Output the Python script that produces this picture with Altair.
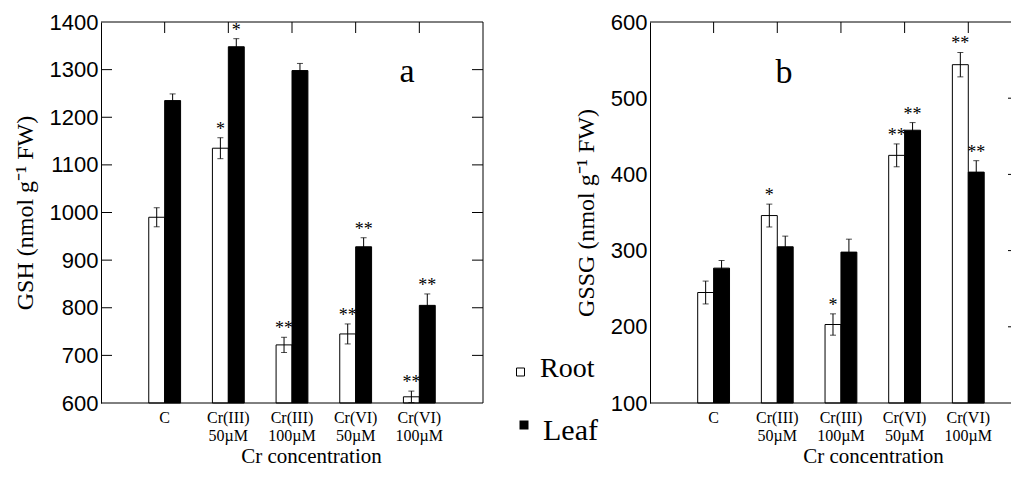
import altair as alt
import pandas as pd

categories = ["C", "Cr(III)\n50µM", "Cr(III)\n100µM", "Cr(VI)\n50µM", "Cr(VI)\n100µM"]
series = ["Root", "Leaf"]
panel_letters = ["a", "b"]

gsh_root = [990, 1135, 722, 745, 613]
gsh_root_err = [20, 22, 16, 21, 12]
gsh_leaf = [1235, 1348, 1298, 928, 805]
gsh_leaf_err = [14, 17, 15, 19, 24]
gsh_root_sig = ["", "*", "**", "**", "**"]
gsh_leaf_sig = ["", "*", "", "**", "**"]
gsh_ticks = [600, 700, 800, 900, 1000, 1100, 1200, 1300, 1400]

gssg_root = [245, 346, 203, 425, 544]
gssg_root_err = [15, 15, 14, 15, 16]
gssg_leaf = [277, 305, 298, 458, 403]
gssg_leaf_err = [10, 14, 17, 10, 15]
gssg_root_sig = ["", "*", "*", "**", "**"]
gssg_leaf_sig = ["", "", "", "**", "**"]
gssg_ticks = [100, 200, 300, 400, 500, 600]

SERIF = "Liberation Serif"
SANS = "Liberation Sans"
H = 381


def build_panel(root, root_err, leaf, leaf_err, root_sig, leaf_sig, ticks, ytitle,
                W, xscale, letter, letter_pos, title_x, left_ticks, right_mode, legend):
    rows = []
    for i, c in enumerate(categories):
        for s, v, e, g in ((series[0], root, root_err, root_sig), (series[1], leaf, leaf_err, leaf_sig)):
            rows.append(dict(cat=c, series=s, value=v[i], lo=v[i] - e[i], hi=v[i] + e[i], sig=g[i]))
    df = pd.DataFrame(rows)

    yscale = alt.Scale(domain=[ticks[0], ticks[-1]], nice=False, zero=False)
    yaxis = alt.Axis(values=ticks, format="d", title=ytitle, grid=False, ticks=False, tickSize=0,
                     domainColor="black", domainWidth=1, labelFont=SANS, labelFontSize=22,
                     labelColor="black", labelPadding=3, titleFont=SERIF, titleFontSize=24,
                     titleFontWeight="normal", titleColor="black", titlePadding=12)
    xaxis = alt.Axis(title="Cr concentration", labelAngle=0, labelExpr="split(datum.label, '\\n')",
                     labelFont=SERIF, labelFontSize=16, labelLineHeight=18, labelColor="black",
                     labelPadding=6, labelOverlap=False, ticks=False, tickSize=0, grid=False,
                     domain=False, titleFont=SERIF, titleFontSize=21,
                     titleFontWeight="normal", titleColor="black", titleX=title_x, titleAlign="center",
                     titlePadding=2)

    def X():
        return alt.X("cat:N", sort=categories, scale=xscale, axis=xaxis)

    def XO():
        return alt.XOffset("series:N", sort=series, scale=alt.Scale(paddingInner=0, paddingOuter=1))

    def Y(f):
        return alt.Y(f, scale=yscale, axis=yaxis)

    layers = []
    layers.append(alt.Chart(df).mark_bar(stroke="black", strokeWidth=1).encode(
        x=X(), xOffset=XO(), y=Y("value:Q"), y2=alt.datum(ticks[0]),
        fill=alt.Fill("series:N", scale=alt.Scale(domain=series, range=["white", "black"]), legend=None)))
    layers.append(alt.Chart(df).mark_rule(color="black", strokeWidth=1).encode(
        x=X(), xOffset=XO(), y=Y("lo:Q"), y2="hi:Q"))
    layers.append(alt.Chart(df).mark_tick(color="black", thickness=1, size=6).encode(
        x=X(), xOffset=XO(), y=Y("hi:Q")))
    layers.append(alt.Chart(df).mark_tick(color="black", thickness=1, size=6).encode(
        x=X(), xOffset=XO(), y=Y("lo:Q")))
    layers.append(alt.Chart(df).mark_text(font=SERIF, fontSize=18, baseline="alphabetic", dy=-3,
                                          fill="black").encode(
        x=X(), xOffset=XO(), y=Y("hi:Q"), text="sig:N"))

    # frame lines and inward ticks
    one = pd.DataFrame({"k": [0]})
    layers.append(alt.Chart(one).mark_rule(color="black").encode(
        x=alt.value(0), x2=alt.value(W), y=alt.value(0)))
    layers.append(alt.Chart(one).mark_rule(color="black").encode(
        x=alt.value(0), x2=alt.value(W), y=alt.value(H)))
    layers.append(alt.Chart(pd.DataFrame({"cat": categories})).mark_rule(color="black").encode(
        x=X(), y=alt.value(0), y2=alt.value(11)))
    tdf = pd.DataFrame({"t": ticks[1:-1]})
    if left_ticks:
        layers.append(alt.Chart(tdf).mark_rule(color="black").encode(
            y=Y("t:Q"), x=alt.value(0), x2=alt.value(11)))
    if right_mode == "full":
        layers.append(alt.Chart(one).mark_rule(color="black").encode(
            x=alt.value(W), y=alt.value(0), y2=alt.value(H)))
        layers.append(alt.Chart(tdf).mark_rule(color="black").encode(
            y=Y("t:Q"), x=alt.value(W - 11), x2=alt.value(W)))
    else:
        layers.append(alt.Chart(tdf).mark_rule(color="black").encode(
            y=Y("t:Q"), x=alt.value(W - 3), x2=alt.value(W)))

    layers.append(alt.Chart(pd.DataFrame({"s": [letter]})).mark_text(
        font=SERIF, fontSize=34, align="center", baseline="alphabetic", fill="black").encode(
        x=alt.value(letter_pos[0]), y=alt.value(letter_pos[1]), text="s:N"))

    if legend:
        layers.append(alt.Chart(pd.DataFrame({"s": [series[0]]})).mark_square(
            size=64, fill="white", stroke="black", strokeWidth=1, opacity=1).encode(
            x=alt.value(419.5), y=alt.value(350)))
        layers.append(alt.Chart(pd.DataFrame({"s": [series[1]]})).mark_square(
            size=81, fill="black", opacity=1).encode(
            x=alt.value(423), y=alt.value(403)))
        layers.append(alt.Chart(pd.DataFrame({"s": [series[0]]})).mark_text(
            font=SERIF, fontSize=28, align="left", baseline="alphabetic", fill="black").encode(
            x=alt.value(439), y=alt.value(355), text="s:N"))
        layers.append(alt.Chart(pd.DataFrame({"s": [series[1]]})).mark_text(
            font=SERIF, fontSize=30, align="left", baseline="alphabetic", fill="black").encode(
            x=alt.value(442), y=alt.value(418), text="s:N"))

    return alt.layer(*layers).properties(width=W, height=H)


panel_a = build_panel(gsh_root, gsh_root_err, gsh_leaf, gsh_leaf_err, gsh_root_sig, gsh_leaf_sig,
                      gsh_ticks, "GSH (nmol g⁻¹ FW)", 382,
                      alt.Scale(paddingInner=0, paddingOuter=0.5),
                      panel_letters[0], (306, 60), 210, True, "full", True)
panel_b = build_panel(gssg_root, gssg_root_err, gssg_leaf, gssg_leaf_err, gssg_root_sig, gssg_leaf_sig,
                      gssg_ticks, "GSSG (nmol g⁻¹ FW)", 361,
                      alt.Scale(paddingInner=0, paddingOuter=0.335, align=0.745),
                      panel_letters[1], (134, 61), 223, False, "partial", False)

chart = alt.hconcat(panel_a, panel_b, spacing=167, bounds="flush").configure_view(
    stroke=None).properties(padding={"left": 5, "top": 3, "right": 0, "bottom": 0}, background="white")

chart.save("out.html", embed_options={"renderer": "svg", "actions": False})
